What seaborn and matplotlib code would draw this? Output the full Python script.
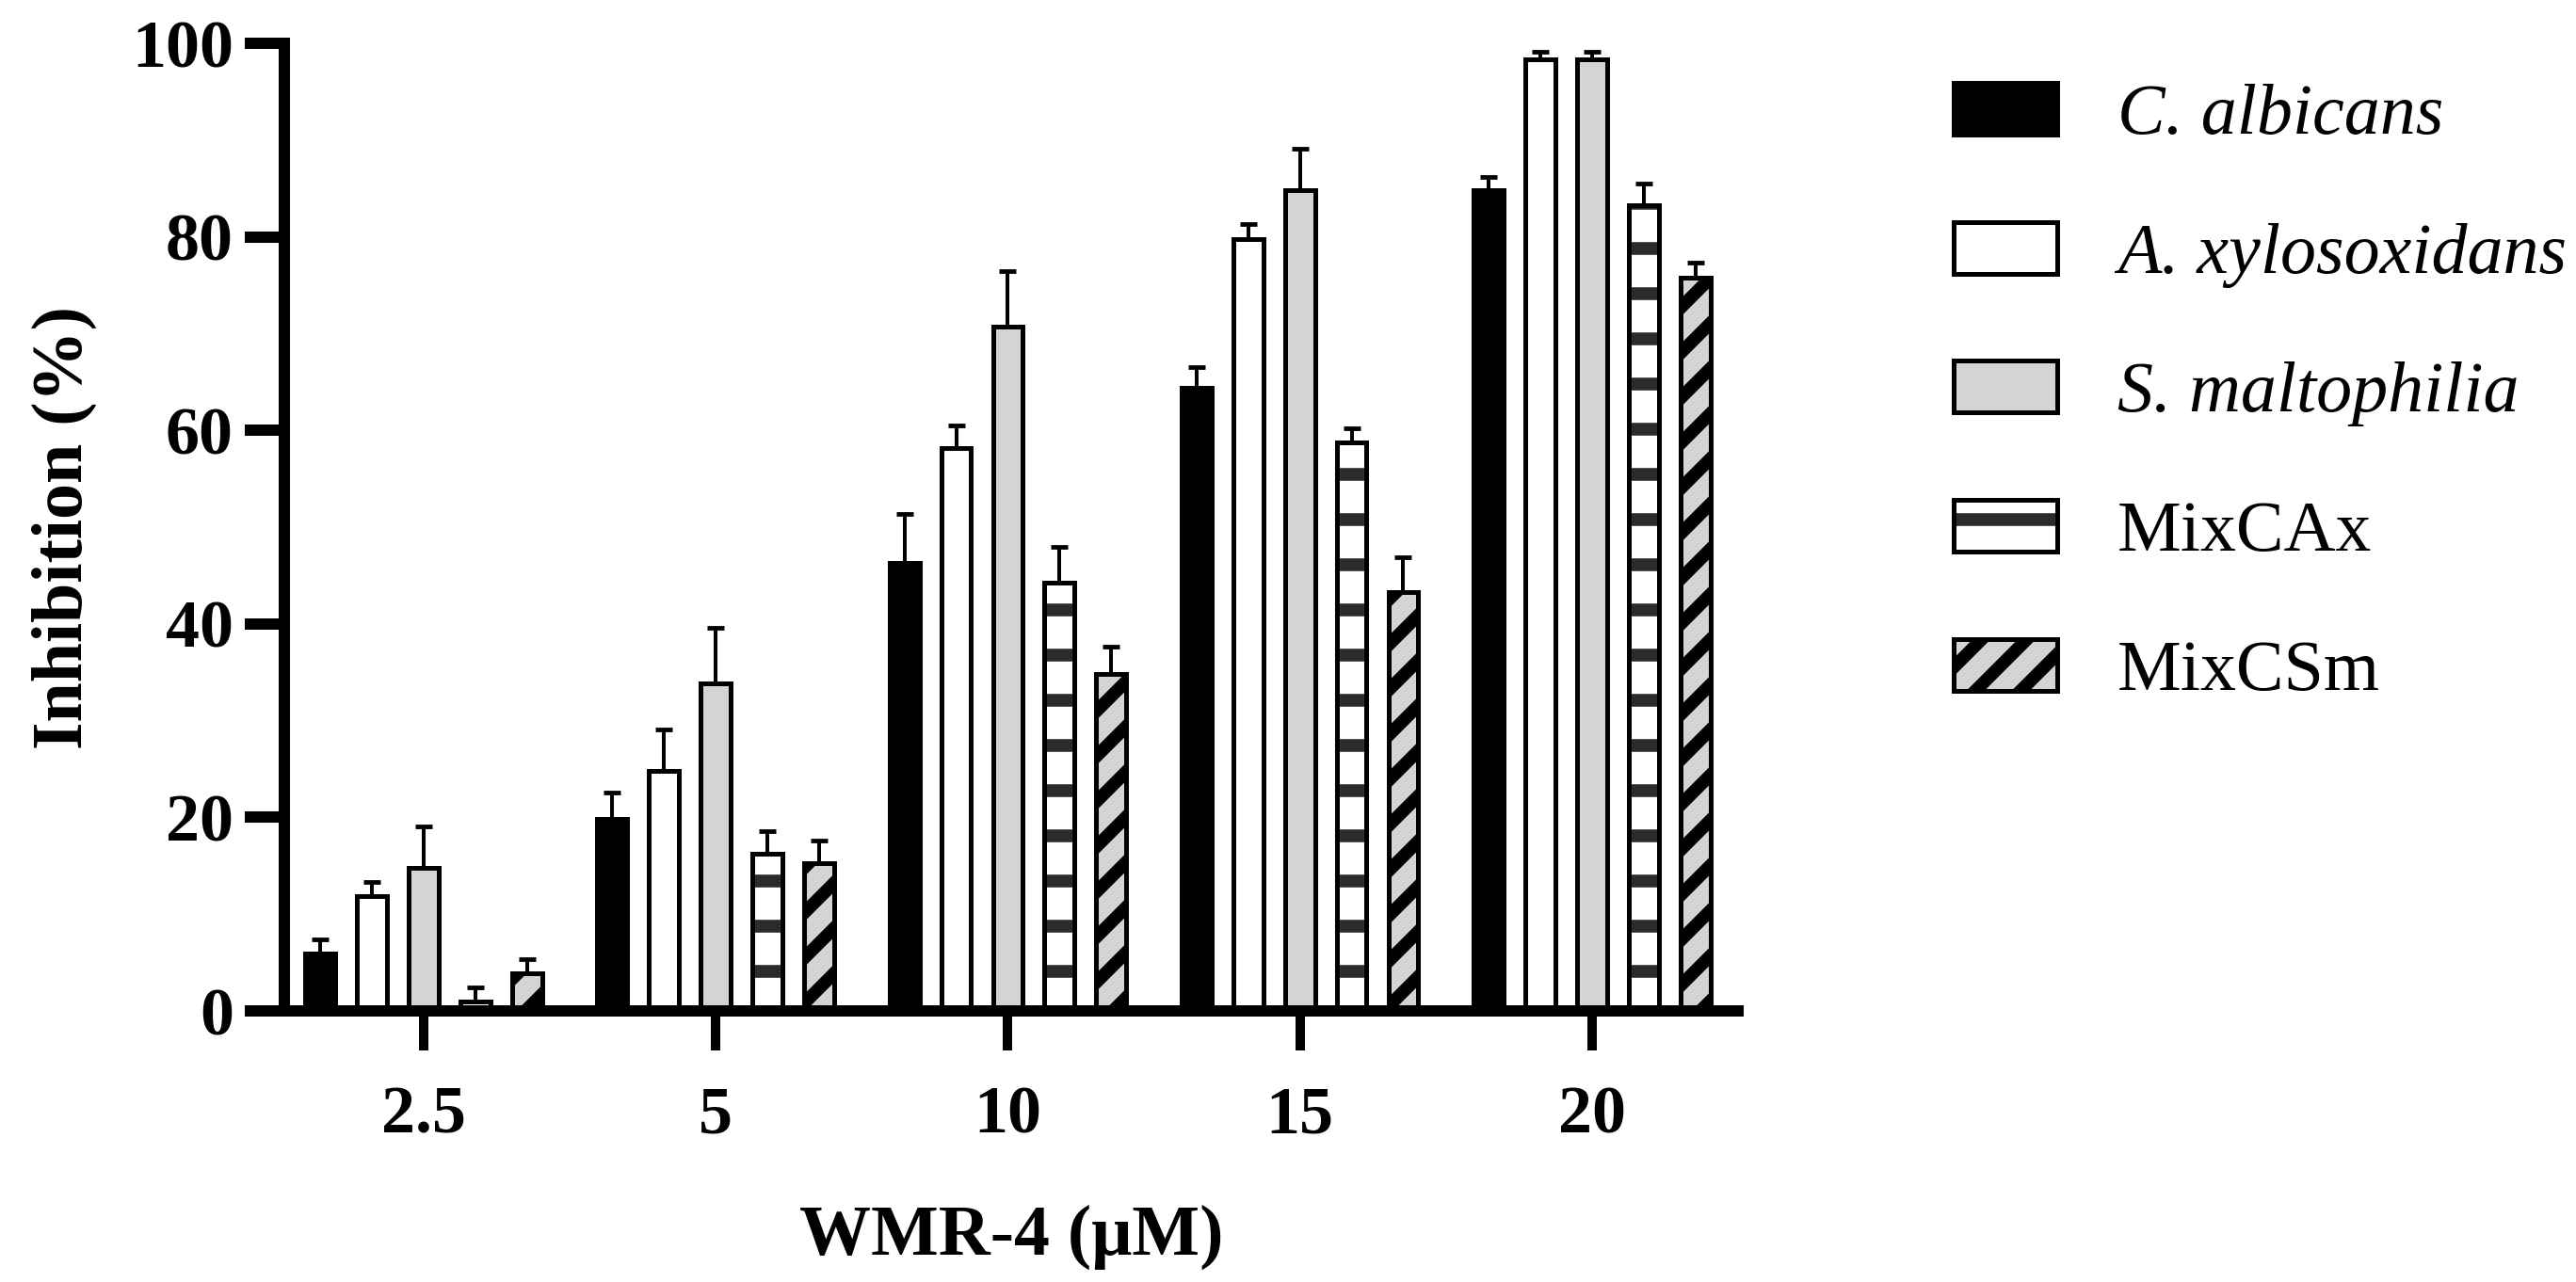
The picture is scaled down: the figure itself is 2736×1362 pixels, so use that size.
import matplotlib.pyplot as plt
import matplotlib.colors as mcolors
import numpy as np
import pandas as pd
import seaborn as sns

# WMR-4 doses (uM) and strains
doses = ['2.5', '5', '10', '15', '20']
strains = ['C. albicans', 'A. xylosoxidans', 'S. maltophilia', 'MixCAx', 'MixCSm']

# Mean inhibition (%), one value per dose
c_albicans = [5.9, 19.8, 46.3, 64.4, 84.8]
a_xylosoxidans = [11.9, 24.8, 58.2, 79.8, 98.3]
s_maltophilia = [14.8, 33.9, 70.7, 84.8, 98.3]
mix_cax = [1.0, 16.2, 44.3, 58.8, 83.3]
mix_csm = [3.9, 15.3, 34.8, 43.3, 75.8]

# Upper error bars
c_albicans_err = [1.5, 2.8, 5.1, 2.1, 1.4]
a_xylosoxidans_err = [1.45, 4.3, 2.3, 1.55, 0.8]
s_maltophilia_err = [4.3, 5.7, 5.8, 4.3, 0.8]
mix_cax_err = [1.45, 2.4, 3.7, 1.4, 2.2]
mix_csm_err = [1.45, 2.3, 2.8, 3.6, 1.55]

means = [c_albicans, a_xylosoxidans, s_maltophilia, mix_cax, mix_csm]
errors = [c_albicans_err, a_xylosoxidans_err, s_maltophilia_err, mix_cax_err, mix_csm_err]

# Long-form table for seaborn
df = pd.DataFrame({
    'dose': doses * len(strains),
    'strain': [s for s in strains for _ in doses],
    'inhibition': [v for m in means for v in m],
})

colors = {'C. albicans': 'black', 'A. xylosoxidans': 'white',
          'S. maltophilia': '#d4d4d4', 'MixCAx': 'white', 'MixCSm': '#d4d4d4'}
hatches = ['', '', '', '-', '//']
hatch_colors = ['black', 'black', 'black', '#2b2b2b', 'black']

sns.set_style('ticks', {'axes.edgecolor': 'black', 'xtick.color': 'black',
                        'ytick.color': 'black', 'text.color': 'black',
                        'axes.labelcolor': 'black'})
plt.rcParams['font.family'] = ['Liberation Serif', 'DejaVu Serif']
plt.rcParams['hatch.linewidth'] = 3.4

W, H, DPI = 2736, 1362, 288
fig = plt.figure(figsize=(W / DPI, H / DPI), dpi=DPI)
ax = fig.add_axes([302 / W, 1 - 1074 / H, 1544 / W, 1028 / H])

sns.barplot(data=df, x='dose', y='inhibition', hue='strain', order=doses,
            hue_order=strains, palette=colors, saturation=1, width=0.885,
            gap=0.42, errorbar=None, edgecolor='black', linewidth=1.25,
            legend=False, ax=ax)
bar_containers = list(ax.containers)

# Hatches and one-sided error bars, positioned from the drawn bars
for container, hatch, hc, err in zip(bar_containers, hatches, hatch_colors, errors):
    xs = [p.get_x() + p.get_width() / 2 for p in container.patches]
    ys = [p.get_height() for p in container.patches]
    for p in container.patches:
        p.set_hatch(hatch)
        p._hatch_color = mcolors.to_rgba(hc)  # stripes a touch lighter than the outline
    ax.errorbar(xs, ys, yerr=[np.zeros(len(err)), err], fmt='none',
                ecolor='black', elinewidth=1.0, capsize=2.25, capthick=1.2,
                zorder=1)

ax.set_ylim(0, 100)
ax.set_xlim(-0.477, 4.5)
ax.set_yticks(range(0, 101, 20))
sns.despine(ax=ax)
for side in ['left', 'bottom']:
    ax.spines[side].set_linewidth(3)
ax.tick_params(axis='y', length=10.5, width=3, pad=3, labelsize=18)
ax.tick_params(axis='x', length=10.5, width=2.5, pad=9.25, labelsize=18)
for lbl in ax.get_xticklabels() + ax.get_yticklabels():
    lbl.set_fontweight('bold')

ax.set_xlabel('WMR-4 (μM)', fontsize=19, fontweight='bold')
ax.set_ylabel('Inhibition (%)', fontsize=19, fontweight='bold')
ax.xaxis.set_label_coords(0.5, -0.2)
ax.yaxis.set_label_coords(-0.129, 0.5)

handles = [c.patches[0] for c in bar_containers]
leg = ax.legend(handles, strains, loc='upper left',
                bbox_to_anchor=(2075 / W, 1 - 88 / H),
                bbox_transform=fig.transFigure, frameon=False, fontsize=19,
                handlelength=1.45, handleheight=0.74, handletextpad=0.84,
                labelspacing=1.02, borderpad=0, borderaxespad=0)
for t in leg.get_texts()[:3]:
    t.set_style('italic')

fig.savefig('out.png', dpi=DPI)
